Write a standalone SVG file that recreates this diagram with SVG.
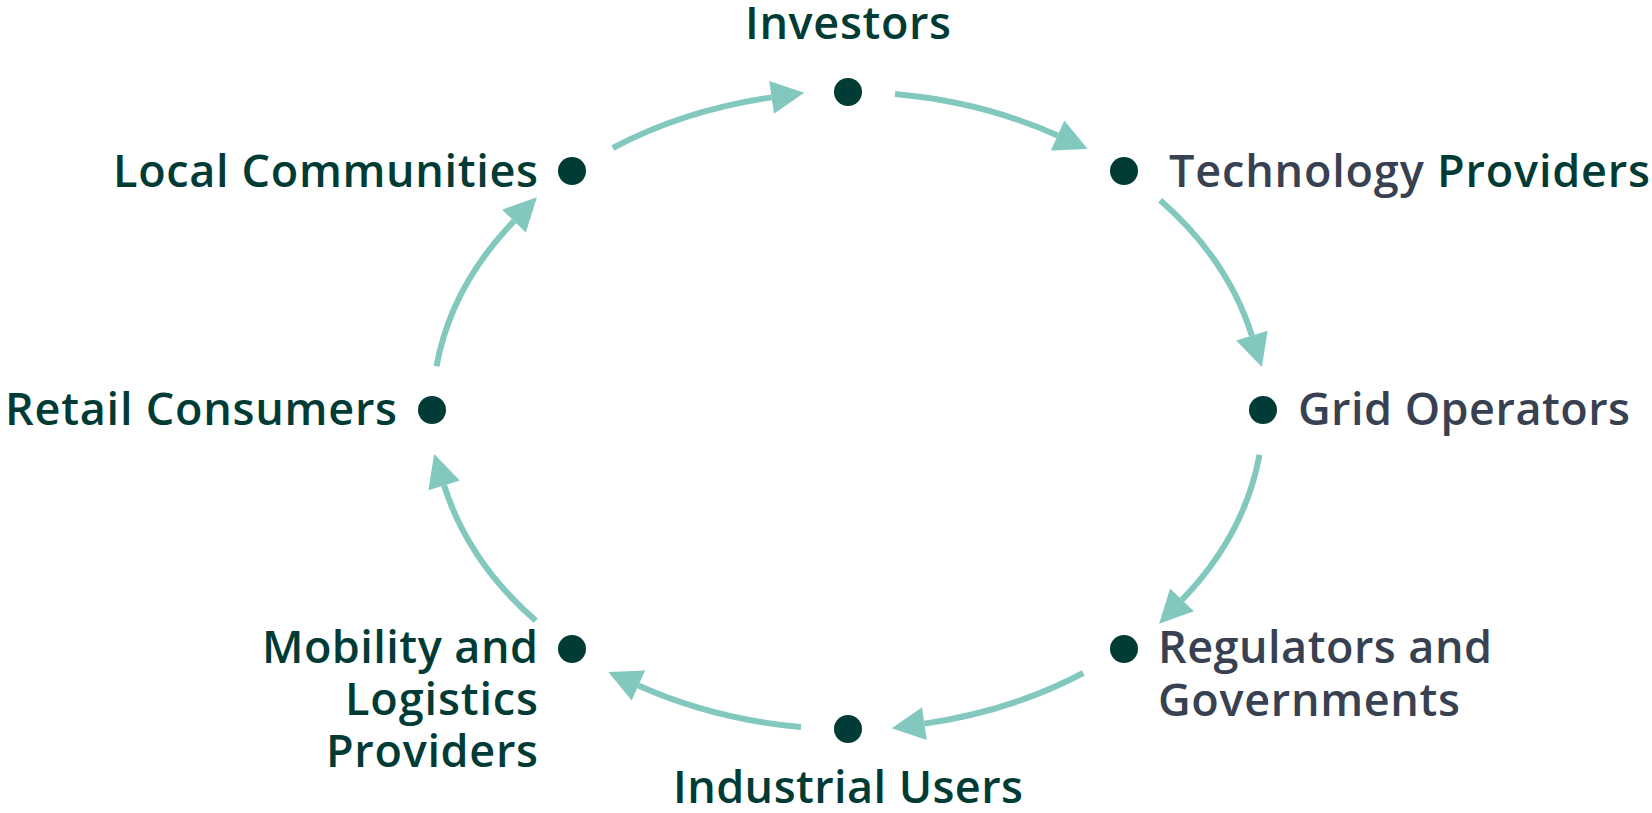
<svg xmlns="http://www.w3.org/2000/svg" width="1652" height="813" viewBox="0 0 1652 813">
  <style>
    .lbl { font-family: "Open Sans", "Noto Sans", "Liberation Sans", sans-serif; font-size: 45px; font-weight: 600; fill: #013b35; }
    .gray { fill: #374151; }
    .dot { fill: #013b35; }
    .flow { fill: none; stroke: #82c8bf; stroke-width: 6; }
  </style>
  <defs>
    <marker id="arrow" markerUnits="userSpaceOnUse" markerWidth="34" markerHeight="34" refX="0" refY="16.5" orient="auto" overflow="visible">
      <path d="M0,0 L33,16.5 L0,33 Z" fill="#82c8bf"/>
    </marker>
  </defs>
  <rect width="1652" height="813" fill="#ffffff"/>

  <!-- elliptical cycle: centre (848,410.5), rx 415.5, ry 318.5 -->
  <g id="connectors">
    <path class="flow" marker-end="url(#arrow)" d="M895.0,94.0 A415.5,318.5 0 0 1 1057.6,135.5"/>
    <path class="flow" marker-end="url(#arrow)" d="M1160.2,200.3 A415.5,318.5 0 0 1 1251.9,335.6"/>
    <path class="flow" marker-end="url(#arrow)" d="M1259.5,454.8 A415.5,318.5 0 0 1 1182.0,599.9"/>
    <path class="flow" marker-end="url(#arrow)" d="M1083.3,673.0 A415.5,318.5 0 0 1 924.4,723.6"/>
    <path class="flow" marker-end="url(#arrow)" d="M801.0,727.0 A415.5,318.5 0 0 1 638.4,685.5"/>
    <path class="flow" marker-end="url(#arrow)" d="M535.8,620.7 A415.5,318.5 0 0 1 444.1,485.4"/>
    <path class="flow" marker-end="url(#arrow)" d="M436.5,366.2 A415.5,318.5 0 0 1 514.0,221.1"/>
    <path class="flow" marker-end="url(#arrow)" d="M612.7,148.0 A415.5,318.5 0 0 1 771.6,97.4"/>
  </g>

  <g id="investors">
    <circle class="dot" cx="848" cy="92" r="14"/>
    <text class="lbl" x="848" y="39" text-anchor="middle" textLength="206">Investors</text>
  </g>
  <g id="technology-providers">
    <circle class="dot" cx="1124" cy="171" r="14"/>
    <text class="lbl" x="1169" y="187" textLength="481"><tspan class="gray">Technology</tspan> Providers</text>
  </g>
  <g id="grid-operators">
    <circle class="dot" cx="1263" cy="410" r="14"/>
    <text class="lbl gray" x="1298" y="425" textLength="332">Grid Operators</text>
  </g>
  <g id="regulators-governments">
    <circle class="dot" cx="1124" cy="649" r="14"/>
    <text class="lbl gray"><tspan x="1158" y="663" textLength="334">Regulators and</tspan><tspan x="1158" y="716" textLength="302">Governments</tspan></text>
  </g>
  <g id="industrial-users">
    <circle class="dot" cx="848" cy="729" r="14"/>
    <text class="lbl" x="848" y="803" text-anchor="middle" textLength="350">Industrial Users</text>
  </g>
  <g id="mobility-logistics">
    <circle class="dot" cx="572" cy="649" r="14"/>
    <text class="lbl" text-anchor="end"><tspan x="538" y="663" textLength="276">Mobility and</tspan><tspan x="538" y="715" textLength="193">Logistics</tspan><tspan x="538" y="767" textLength="212">Providers</tspan></text>
  </g>
  <g id="retail-consumers">
    <circle class="dot" cx="432" cy="410" r="14"/>
    <text class="lbl" x="397" y="425" text-anchor="end" textLength="392">Retail Consumers</text>
  </g>
  <g id="local-communities">
    <circle class="dot" cx="572" cy="171" r="14"/>
    <text class="lbl" x="538" y="187" text-anchor="end" textLength="425">Local Communities</text>
  </g>
</svg>
